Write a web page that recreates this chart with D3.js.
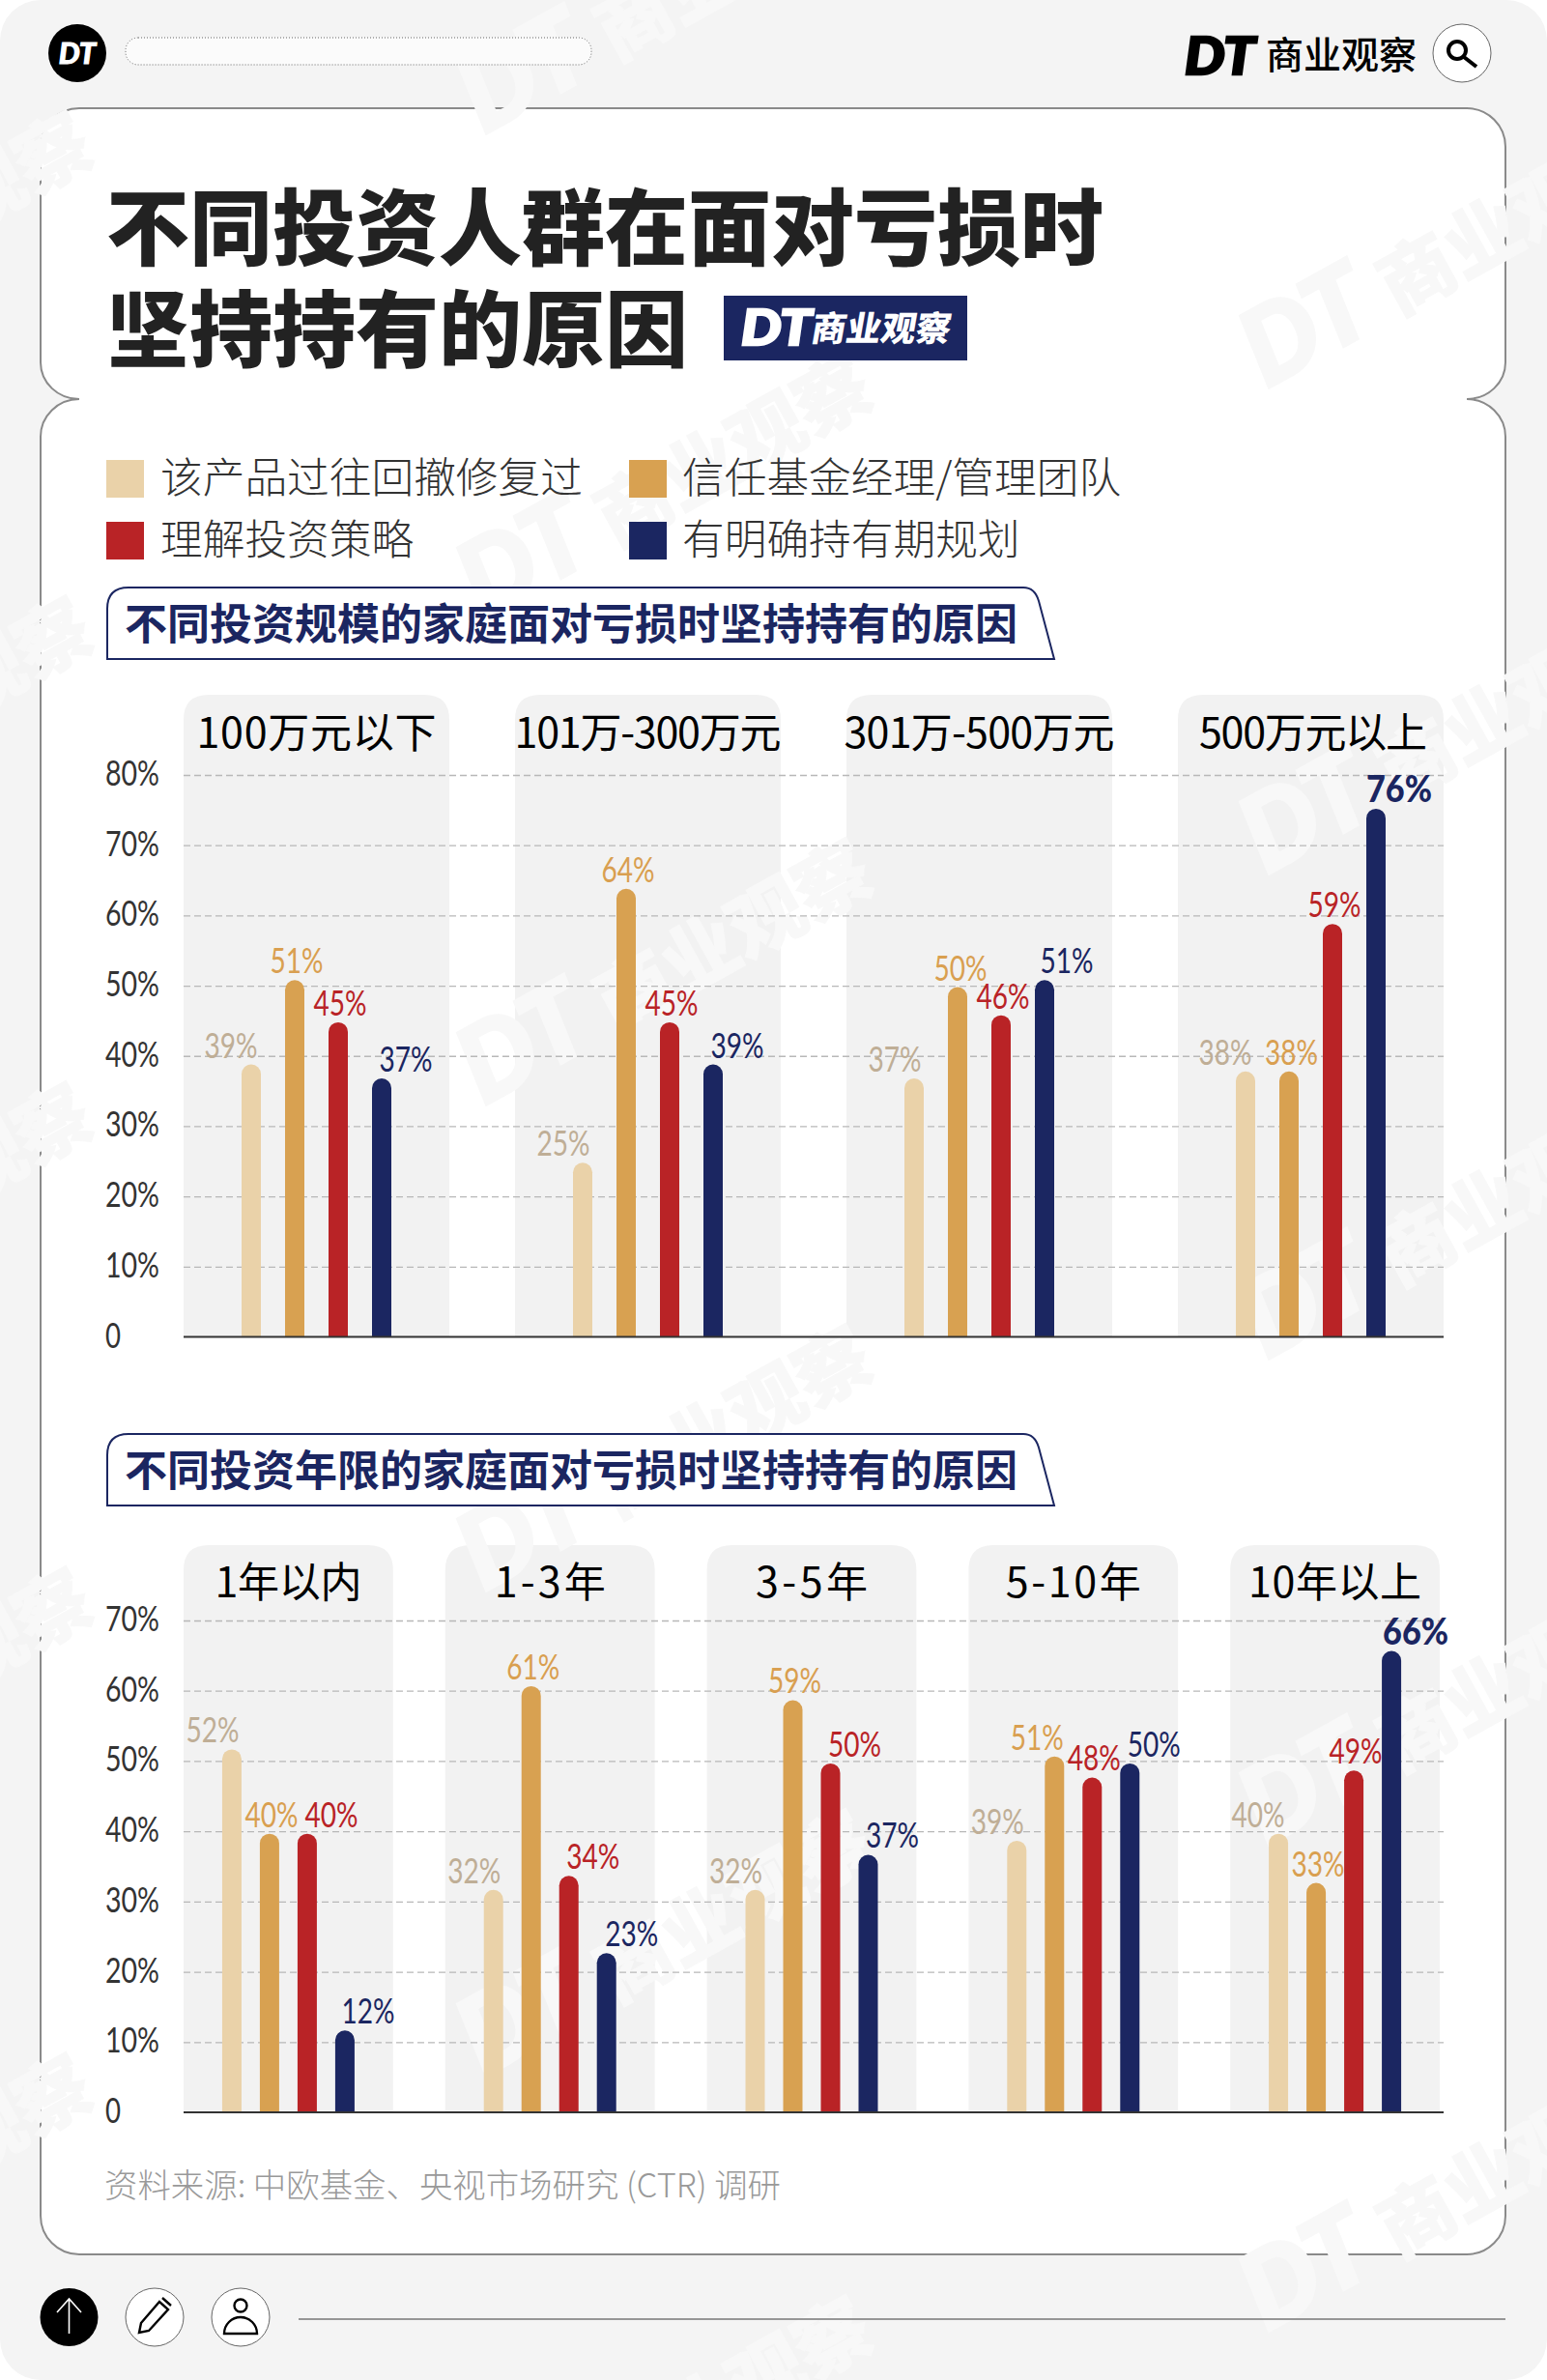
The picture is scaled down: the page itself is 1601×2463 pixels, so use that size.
<!DOCTYPE html>
<html><head><meta charset="utf-8">
<script src="https://cdn.jsdelivr.net/npm/d3@7/dist/d3.min.js"></script>
<style>
html,body{margin:0;padding:0;background:#fff}
svg{display:block}
text{font-family:"Noto Sans CJK SC","Noto Sans",sans-serif}
.num{font-family:Lato,"Noto Sans",sans-serif}
</style></head><body><svg id="c" width="1601" height="2463"></svg>
<script>
// ---------- data ----------
const seriesNames = ["该产品过往回撤修复过","信任基金经理/管理团队","理解投资策略","有明确持有期规划"];
const sizeCategories = ["100万元以下","101万-300万元","301万-500万元","500万元以上"];
const sizeRecovered = [39,25,37,38];
const sizeManager   = [51,64,50,38];
const sizeStrategy  = [45,45,46,59];
const sizeHorizon   = [37,39,51,76];
const sizeHorizonBar = [37,39,51,75.4];
const sizeTicks = [0,10,20,30,40,50,60,70,80];
const yearCategories = ["1年以内","1-3年","3-5年","5-10年","10年以上"];
const yearRecovered = [52,32,32,39,40];
const yearManager   = [40,61,59,51,33];
const yearStrategy  = [40,34,50,48,49];
const yearHorizon   = [12,23,37,50,66];
const yearTicks = [0,10,20,30,40,50,60,70];
const titleLines = ["不同投资人群在面对亏损时","坚持持有的原因"];
const headingSize = "不同投资规模的家庭面对亏损时坚持持有的原因";
const headingYear = "不同投资年限的家庭面对亏损时坚持持有的原因";
const sourceText = "资料来源: 中欧基金、央视市场研究 (CTR) 调研";
const brandText = "商业观察";
// ---------- layout / style ----------
const NAVY="#1b2661", TAN="#ead2a9", ORANGE="#d8a151", RED="#b92326";
const barColors=[TAN,ORANGE,RED,NAVY];
const labelColors=["#bfae96","#d99f50","#b92326","#1b2661"];
const sizeNudge=[[-21,2,2,25],[-20,2,2,25],[-20,3,2,23],[-21,2.5,2,24]];
const yearNudge=[[-20,2,25,24],[-20,2,25,26],[-20,2,25,25],[-20,-18,2,25],[-21,2,2,25]];
const sizeTitleW=[248,276,280,236], sizeTitleShift=[0,0,0,2.5];
const yearTitleW=[152,115,116,140,179], yearTitleShift=[0,0,0,0,0];

const svg=d3.select("#c");
svg.append("rect").attr("width",1601).attr("height",2463).attr("rx",42).attr("fill","#f4f4f4");

// card with side cusps
const L=42,R=1558,T=112,B=2333,N=413,r=40;
const cardPath=`M${L} ${T+r}A${r} ${r} 0 0 1 ${L+r} ${T}H${R-r}A${r} ${r} 0 0 1 ${R} ${T+r}V${N-38}A40 38 0 0 1 ${R-40} ${N}A40 39 0 0 1 ${R} ${N+39}V${B-r}A${r} ${r} 0 0 1 ${R-r} ${B}H${L+r}A${r} ${r} 0 0 1 ${L} ${B-r}V${N+39}A40 39 0 0 1 ${L+40} ${N}A40 38 0 0 1 ${L} ${N-38}Z`;
const cardFill=svg.append("path").attr("d",cardPath).attr("fill","#fff").attr("stroke","#8a8a8a").attr("stroke-width",2);

const panelLayer=svg.append("g");
const wmLayer=svg.append("g").attr("pointer-events","none");
const mainLayer=svg.append("g");

// watermark lattice
const wmCentres=[[695,498],[695,1000],[695,1503],[695,2005],[695,2508],[695,-5],
 [1505,258],[1505,761],[1505,1263],[1505,1766],[1505,2269],
 [-112,247],[-112,749],[-112,1252],[-112,1754],[-112,2257]];
wmCentres.forEach(c=>{
  const g=wmLayer.append("g").attr("transform",`translate(${c[0]},${c[1]}) rotate(-29)`).attr("fill","#f8f8f8").attr("stroke","#f8f8f8");
  g.append("text").attr("class","num").attr("x",-240).attr("y",32).attr("font-size",108).attr("font-weight",900).attr("font-style","italic").attr("stroke-width",4).text("DT");
  g.append("text").attr("x",-85).attr("y",32).attr("font-size",78).attr("font-weight",900).attr("stroke-width",1).text(brandText);
});

const m=mainLayer;
// header
m.append("circle").attr("cx",80).attr("cy",55).attr("r",30).attr("fill","#000");
m.append("text").attr("class","num").attr("x",80).attr("y",66).attr("text-anchor","middle").attr("font-size",31).attr("font-weight",900).attr("font-style","italic").attr("fill","#fff").attr("stroke","#fff").attr("stroke-width",1).text("DT");
m.append("rect").attr("x",130).attr("y",39).attr("width",482).attr("height",28).attr("rx",13).attr("fill","#fbfbfb").attr("stroke","#666").attr("stroke-width",1).attr("stroke-dasharray","1 2");
m.append("text").attr("class","num").attr("x",1226).attr("y",77).attr("font-size",53).attr("font-weight",900).attr("font-style","italic").attr("fill","#000").attr("stroke","#000").attr("stroke-width",2.5).attr("textLength",73).attr("lengthAdjust","spacingAndGlyphs").text("DT");
m.append("text").attr("x",1310).attr("y",71).attr("font-size",39).attr("font-weight",500).attr("fill","#000").text(brandText);
m.append("circle").attr("cx",1513).attr("cy",55).attr("r",30).attr("fill","#fff").attr("stroke","#666").attr("stroke-width",1);
m.append("circle").attr("cx",1508).attr("cy",52).attr("r",9).attr("fill","none").attr("stroke","#000").attr("stroke-width",4);
m.append("line").attr("x1",1515).attr("y1",59).attr("x2",1528).attr("y2",69).attr("stroke","#000").attr("stroke-width",4);

// title
[268,373].forEach((y,i)=>m.append("text").attr("x",110).attr("y",y).attr("font-size",86).attr("font-weight",900).attr("fill","#222").text(titleLines[i]));
m.append("rect").attr("x",749).attr("y",306).attr("width",252).attr("height",67).attr("fill",NAVY);
m.append("text").attr("class","num").attr("x",767).attr("y",357).attr("font-size",52).attr("font-weight",900).attr("font-style","italic").attr("fill","#fff").attr("stroke","#fff").attr("stroke-width",2.5).attr("textLength",73).attr("lengthAdjust","spacingAndGlyphs").text("DT");
m.append("text").attr("transform","translate(838,353) skewX(-10)").attr("font-size",36).attr("font-weight",900).attr("fill","#fff").text(brandText);

// legend
const legendX=[110,651], legendTextX=[166,706], legendRowY=[476,540], legendBase=[510,574];
seriesNames.forEach((s,i)=>{
  const col=i===0||i===2?0:1,row=i<2?0:1;
  m.append("rect").attr("x",legendX[col]).attr("y",legendRowY[row]).attr("width",39).attr("height",39).attr("fill",barColors[i]);
  m.append("text").attr("x",legendTextX[col]).attr("y",legendBase[row]).attr("font-size",43.7).attr("font-weight",300).attr("fill","#333").text(s);
});

function heading(top,txt){
  const h=74,x0=111,x1=1091;
  m.append("path").attr("d",`M${x0} ${top+h}V${top+22}Q${x0} ${top} ${x0+22} ${top}H${x1-32}Q${x1-20} ${top} ${x1-16} ${top+14}L${x1} ${top+h}Z`)
    .attr("fill","#fff").attr("stroke",NAVY).attr("stroke-width",2);
  m.append("text").attr("x",129).attr("y",top+54).attr("font-size",44).attr("font-weight",700).attr("fill",NAVY).text(txt);
}
heading(608,headingSize);
heading(1484,headingYear);

function chart(cfg){
  const y=d3.scaleLinear().domain([0,cfg.ticks[cfg.ticks.length-1]]).range([cfg.base,cfg.topTick]);
  const x=d3.scaleBand().domain(cfg.cats).range([190,cfg.bandEnd]).paddingInner(cfg.padOuter);
  const inner=d3.scaleBand().domain(seriesNames).range([0,cfg.groupW]).paddingInner(cfg.padBar);
  const off=(x.bandwidth()-cfg.groupW)/2, bw=inner.bandwidth(), rad=bw/2;
  const pTop=cfg.panelTop;
  // panels
  cfg.cats.forEach(c=>{
    const a=x(c),b=a+x.bandwidth(),rr=26;
    panelLayer.append("path").attr("d",`M${a} ${cfg.base}V${pTop+rr}Q${a} ${pTop} ${a+rr} ${pTop}H${b-rr}Q${b} ${pTop} ${b} ${pTop+rr}V${cfg.base}Z`).attr("fill","#f2f2f2");
  });
  // grid + tick labels through d3 axis
  const axis=d3.axisLeft(y).tickValues(cfg.ticks).tickSize(-(1494-190)).tickFormat(d=>d===0?"0":d+"%");
  const g=m.append("g").attr("transform","translate(190,0)").call(axis);
  g.select(".domain").remove();
  g.selectAll(".tick line").attr("stroke","#b8b8b8").attr("stroke-width",1.3).attr("stroke-dasharray","7 4").filter(d=>d===0).remove();
  g.selectAll(".tick text").attr("class","num").attr("x",-81).attr("dy",0).attr("y",10.5)
    .attr("text-anchor","start").attr("font-size",37).attr("font-weight",400).attr("fill","#333")
    .each(function(d){ d3.select(this).attr("textLength",d===0?16:56).attr("lengthAdjust","spacingAndGlyphs");});
  // bars
  cfg.values.forEach((vals,si)=>{
    vals.forEach((v,ci)=>{
      const bx=x(cfg.cats[ci])+off+inner(seriesNames[si]);
      const bv=si===3&&cfg.horizonBar?cfg.horizonBar[ci]:v;
      const top=y(bv)+cfg.inset;
      m.append("path").attr("d",`M${bx} ${cfg.base}V${top+rad}A${rad} ${rad} 0 0 1 ${bx+bw} ${top+rad}V${cfg.base}Z`).attr("fill",barColors[si]);
      const hero=cfg.hero===ci&&si===3;
      m.append("text").attr("class","num").attr("x",bx+rad+cfg.nudge[ci][si]).attr("y",top-7)
        .attr("text-anchor","middle").attr("font-size",37).attr("font-weight",hero?900:400).attr("fill",labelColors[si])
        .attr("textLength",hero?68:55).attr("lengthAdjust","spacingAndGlyphs").text(v+"%");
    });
  });
  // panel titles
  cfg.cats.forEach((c,i)=>{
    m.append("text").attr("x",x(c)+x.bandwidth()/2+cfg.titleShift[i]).attr("y",cfg.titleY).attr("text-anchor","middle").attr("font-size",43).attr("font-weight",400).attr("fill","#000")
      .attr("textLength",cfg.titleW[i]).attr("lengthAdjust","spacing").text(c);
  });
  // baseline
  m.append("line").attr("x1",190).attr("x2",1494).attr("y1",cfg.base).attr("y2",cfg.base).attr("stroke","#333").attr("stroke-width",2);
}
chart({cats:sizeCategories,values:[sizeRecovered,sizeManager,sizeStrategy,sizeHorizon],horizonBar:sizeHorizonBar,ticks:sizeTicks,base:1383.5,topTick:802,bandEnd:1494,padOuter:68/343,groupW:155,padBar:25/45,panelTop:719,titleY:774,inset:1.5,nudge:sizeNudge,hero:3,titleW:sizeTitleW,titleShift:sizeTitleShift});
chart({cats:yearCategories,values:[yearRecovered,yearManager,yearStrategy,yearHorizon],ticks:yearTicks,base:2186,topTick:1677,bandEnd:1490,padOuter:54/271,groupW:137,padBar:19/39,panelTop:1599,titleY:1653,inset:2.5,nudge:yearNudge,hero:4,titleW:yearTitleW,titleShift:yearTitleShift});

// source
m.append("text").attr("x",108).attr("y",2274).attr("font-size",34.5).attr("font-weight",300).attr("fill","#999").attr("textLength",700).attr("lengthAdjust","spacingAndGlyphs").text(sourceText);

// footer
m.append("circle").attr("cx",71.5).attr("cy",2398).attr("r",30).attr("fill","#000");
m.append("path").attr("d","M71.5 2415V2380M59 2393L71.5 2379L84 2393").attr("fill","none").attr("stroke","#fff").attr("stroke-width",1.6);
[160,249].forEach(cx=>m.append("circle").attr("cx",cx).attr("cy",2398).attr("r",30).attr("fill","#fff").attr("stroke","#666").attr("stroke-width",1));
m.append("path").attr("d","M144 2414L146 2404L165 2382L174 2390L154 2412ZM168 2378L177 2386").attr("fill","none").attr("stroke","#000").attr("stroke-width",2.4);
m.append("circle").attr("cx",249).attr("cy",2386).attr("r",6.5).attr("fill","none").attr("stroke","#000").attr("stroke-width",2.4);
m.append("path").attr("d","M232 2415A17 17 0 0 1 266 2415Z").attr("fill","none").attr("stroke","#000").attr("stroke-width",2.4);
m.append("line").attr("x1",309).attr("x2",1558).attr("y1",2400).attr("y2",2400).attr("stroke","#777").attr("stroke-width",1.5);
</script></body></html>
